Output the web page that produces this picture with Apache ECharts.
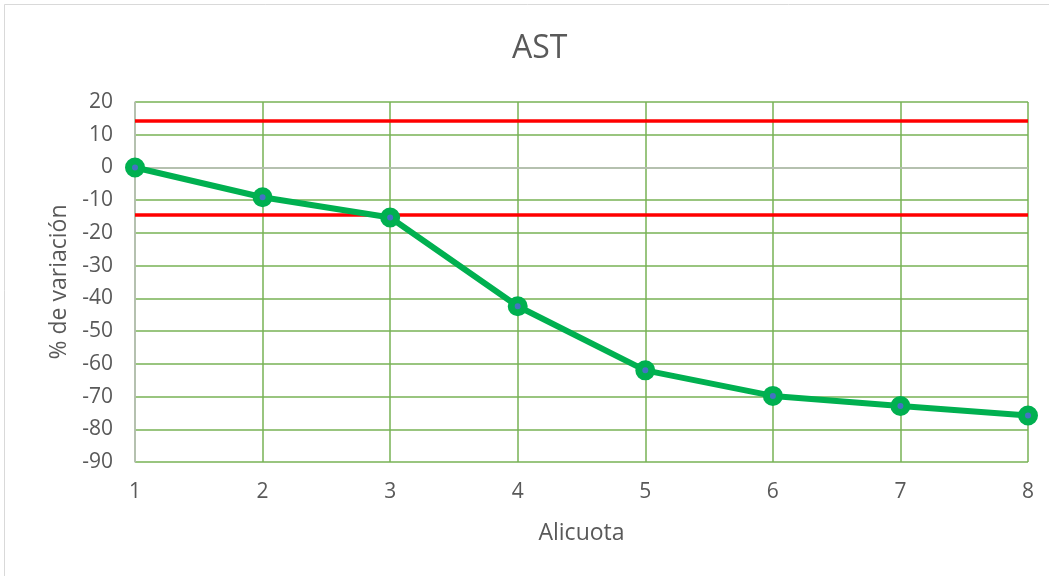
<!DOCTYPE html>
<html>
<head>
<meta charset="utf-8">
<script src="https://cdn.jsdelivr.net/npm/echarts@6/dist/echarts.min.js"></script>
<style>
  html, body { margin: 0; padding: 0; background: #ffffff; }
  #chart { width: 1049px; height: 576px; }
</style>
</head>
<body>
<div id="chart"></div>
<script>
// Aliquot numbers on the horizontal axis
const categories = ['1', '2', '3', '4', '5', '6', '7', '8'];
// AST percentage variation per aliquot
const astVariation = [0, -9.1, -15.3, -42.4, -62.0, -69.8, -72.9, -75.8];
// Acceptance limits (upper / lower), in %
const limits = [14.3, -14.3];
// Value axis range and step
const yMin = -90, yMax = 20, yStep = 10;

const textColor = '#595959';
const gridGreen = '#77B255';
const fontFamily = '"Open Sans", "Noto Sans", sans-serif';

const chart = echarts.init(document.getElementById('chart'), null, { renderer: 'canvas' });

chart.setOption({
  animation: false,
  backgroundColor: '#ffffff',
  graphic: [{
    type: 'rect',
    shape: { x: 4.5, y: 4.5, width: 1100, height: 600 },
    style: { fill: 'none', stroke: '#d9d9d9', lineWidth: 1 },
    silent: true
  }],
  title: {
    text: 'AST',
    left: 507,
    top: 28,
    textStyle: { color: textColor, fontSize: 32, fontWeight: 'normal', fontFamily: fontFamily }
  },
  grid: { left: 135, right: 21, top: 102, bottom: 114, containLabel: false },
  xAxis: {
    type: 'category',
    data: categories,
    boundaryGap: false,
    name: 'Alicuota',
    nameLocation: 'middle',
    nameGap: 60,
    nameTextStyle: { color: textColor, fontSize: 23, fontFamily: fontFamily },
    axisLine: { show: false },
    axisTick: { show: false },
    axisLabel: { color: textColor, fontSize: 21, margin: 20, fontFamily: fontFamily },
    splitLine: { show: true, lineStyle: { color: gridGreen, width: 1.5 } }
  },
  yAxis: {
    type: 'value',
    min: yMin,
    max: yMax,
    interval: yStep,
    name: '% de variación',
    nameLocation: 'middle',
    nameGap: 57,
    nameRotate: 90,
    nameTextStyle: { color: textColor, fontSize: 23, fontFamily: fontFamily },
    axisLine: { show: true, onZero: false, lineStyle: { color: '#bfbfbf', width: 1.5 } },
    axisTick: { show: false },
    axisLabel: { color: textColor, fontSize: 21, margin: 22, fontFamily: fontFamily },
    splitLine: { show: true, lineStyle: { color: gridGreen, width: 1.5 } }
  },
  series: [
    {
      // zero reference line
      type: 'line',
      data: [],
      silent: true,
      markLine: {
        silent: true,
        symbol: 'none',
        label: { show: false },
        lineStyle: { color: '#bfbfbf', width: 1.5, type: 'solid' },
        data: [{ yAxis: 0 }]
      }
    },
    {
      // acceptance limits
      type: 'line',
      data: [],
      silent: true,
      markLine: {
        silent: true,
        symbol: 'none',
        label: { show: false },
        lineStyle: { color: '#ff0000', width: 3.5, type: 'solid' },
        data: limits.map(v => ({ yAxis: v }))
      }
    },
    {
      name: 'AST',
      type: 'line',
      data: astVariation,
      z: 5,
      lineStyle: { color: '#00B050', width: 6 },
      symbol: 'circle',
      symbolSize: 13,
      itemStyle: { color: '#4472C4', borderColor: '#00B050', borderWidth: 7 }
    }
  ]
});
</script>
</body>
</html>
